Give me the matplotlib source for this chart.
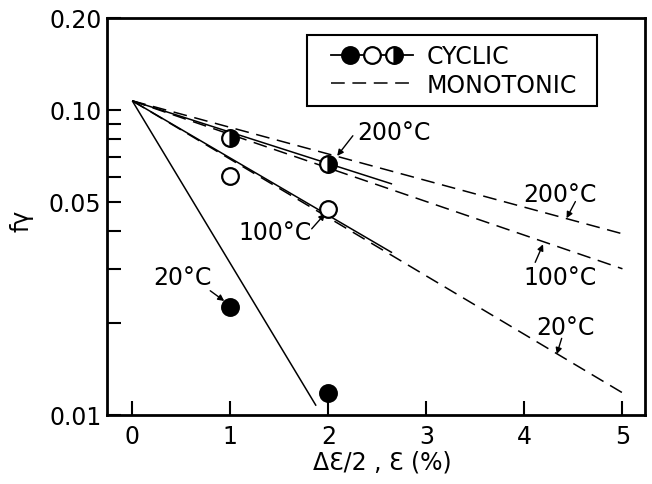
import numpy as np
import matplotlib
matplotlib.use("Agg")
import matplotlib.pyplot as plt
from matplotlib.lines import Line2D
from matplotlib.legend_handler import HandlerBase

plt.rcParams['font.family'] = ['DejaVu Sans']

# ---- data ----
origin_x = 0.0
origin_y = 0.107

strain_cyc = [1, 2]
cyc_20 = [0.0226, 0.0118]
cyc_100 = [0.0608, 0.0473]
cyc_200 = [0.0807, 0.0665]

# cyclic fit lines (solid): end points
fit20_end = (1.875, 0.0107)
fit100_end = (2.65, 0.0340)
fit200_end = (2.65, 0.0571)

# monotonic lines (dashed): end points at 5 %
mono_x_end = 5.0
mono_20_end = 0.0118
mono_100_end = 0.0301
mono_200_end = 0.0392

ytick_major = [0.01, 0.05, 0.10, 0.20]
ytick_labels = ["0.01", "0.05", "0.10", "0.20"]
ytick_minor = [0.02, 0.03, 0.04, 0.06, 0.07, 0.08, 0.09]
xticks = [0, 1, 2, 3, 4, 5]

fig = plt.figure(figsize=(6.52, 4.85), dpi=100)
ax = fig.add_axes([107/652, 1-415.7/485, 538/652, 396.7/485])
ax.set_yscale('log')
ax.set_xlim(-0.258, 5.23)
ax.set_ylim(0.01, 0.20)

lw_line = 1.1
dash = (9, 5)

# solid cyclic fits
for end in (fit20_end, fit100_end, fit200_end):
    ax.plot([origin_x, end[0]], [origin_y, end[1]], color='k', lw=lw_line,
            solid_capstyle='butt', zorder=2)

# dashed monotonic lines
for yend in (mono_20_end, mono_100_end, mono_200_end):
    ax.plot([origin_x, mono_x_end], [origin_y, yend], color='k', lw=lw_line,
            dashes=dash, zorder=2)

ms = 12
mew = 1.6
ax.plot(strain_cyc, cyc_20, ls='none', marker='o', ms=ms, mfc='k', mec='k', mew=mew, zorder=4)
ax.plot(strain_cyc, cyc_100, ls='none', marker='o', ms=ms, mfc='white', mec='k', mew=mew, zorder=4)
ax.plot(strain_cyc, cyc_200, ls='none', marker='o', ms=ms, fillstyle='right', mfc='k',
        markerfacecoloralt='white', mec='k', mew=mew, zorder=4)

# annotations
fs_ann = 17
arrow = dict(arrowstyle='-|>', color='k', lw=1.0, mutation_scale=9, shrinkA=0, shrinkB=0)
ax.text(2.29, 0.0847, "200°C", fontsize=fs_ann, ha='left', va='center')
ax.annotate("", xy=(2.09, 0.0706), xytext=(2.25, 0.0822), arrowprops=arrow)
ax.text(1.83, 0.0397, "100°C", fontsize=fs_ann, ha='right', va='center')
ax.annotate("", xy=(1.966, 0.0456), xytext=(1.83, 0.0407), arrowprops=arrow)
ax.text(0.507, 0.0283, "20°C", fontsize=fs_ann, ha='center', va='center')
ax.annotate("", xy=(0.938, 0.0236), xytext=(0.795, 0.0255), arrowprops=arrow)

ax.text(4.36, 0.0530, "200°C", fontsize=fs_ann, ha='center', va='center')
ax.annotate("", xy=(4.43, 0.0441), xytext=(4.52, 0.0500), arrowprops=arrow)
ax.text(4.36, 0.0283, "100°C", fontsize=fs_ann, ha='center', va='center')
ax.annotate("", xy=(4.19, 0.0362), xytext=(4.11, 0.0316), arrowprops=arrow)
ax.text(4.415, 0.0194, "20°C", fontsize=fs_ann, ha='center', va='center')
ax.annotate("", xy=(4.33, 0.0158), xytext=(4.38, 0.0178), arrowprops=arrow)

# axes styling
for s in ax.spines.values():
    s.set_linewidth(2.0)
ax.set_xticks(xticks)
ax.set_xticklabels([str(t) for t in xticks])
ax.set_yticks(ytick_major)
ax.set_yticklabels(ytick_labels)
ax.set_yticks(ytick_minor, minor=True)
ax.yaxis.set_minor_formatter(matplotlib.ticker.NullFormatter())
ax.xaxis.set_minor_locator(matplotlib.ticker.NullLocator())
ax.tick_params(axis='both', which='both', direction='in', length=10, width=1.5,
               labelsize=17, top=False, right=False)
ax.tick_params(axis='x', pad=7)
ax.tick_params(axis='y', pad=4)

ax.text(0.511, -0.117, "ΔƐ/2 , Ɛ (%)", transform=ax.transAxes, fontsize=17,
        ha='center', va='center')
ax.text(-0.158, 0.49, "fγ", transform=ax.transAxes, fontsize=17,
        ha='center', va='center', rotation=90)

# legend
INSET = 11  # pixels (display units) of inset before the handle


class CyclicHandler(HandlerBase):
    def create_artists(self, legend, orig_handle, xdescent, ydescent, width, height,
                       fontsize, trans):
        y = height / 2 - ydescent
        x0 = -xdescent + INSET
        x1 = width - xdescent
        arts = [Line2D([x0, x1], [y, y], color='k', lw=1.3, transform=trans)]
        styles = [dict(fillstyle='full', mfc='k'),
                  dict(fillstyle='full', mfc='white'),
                  dict(fillstyle='right', mfc='k', markerfacecoloralt='white')]
        for frac, st in zip([0.23, 0.5, 0.77], styles):
            xm = x0 + (x1 - x0) * frac
            arts.append(Line2D([xm], [y], marker='o', ms=ms, mec='k', mew=mew,
                               ls='none', transform=trans, **st))
        return arts


class MonoHandler(HandlerBase):
    def create_artists(self, legend, orig_handle, xdescent, ydescent, width, height,
                       fontsize, trans):
        y = height / 2 - ydescent
        x0 = -xdescent + INSET
        x1 = width - xdescent
        return [Line2D([x0, x1], [y, y], color='k', lw=lw_line, dashes=dash,
                       transform=trans)]


cyc_handle = Line2D([], [], color='k')
mono_handle = Line2D([], [], color='k', lw=lw_line, dashes=dash)
leg_w = 290 / 538
leg_top = 0.957
leg = ax.legend([cyc_handle, mono_handle], ["CYCLIC", "MONOTONIC"],
                handler_map={cyc_handle: CyclicHandler(), mono_handle: MonoHandler()},
                loc='upper left', bbox_to_anchor=(0.372, leg_top - 0.2, leg_w, 0.2),
                mode='expand',
                fontsize=17, frameon=True, fancybox=False, framealpha=1,
                edgecolor='k', handlelength=4.1, handletextpad=0.6,
                borderpad=0.38, labelspacing=0.2, borderaxespad=0)
leg.get_frame().set_linewidth(1.5)

fig.savefig("out.png", dpi=100)
